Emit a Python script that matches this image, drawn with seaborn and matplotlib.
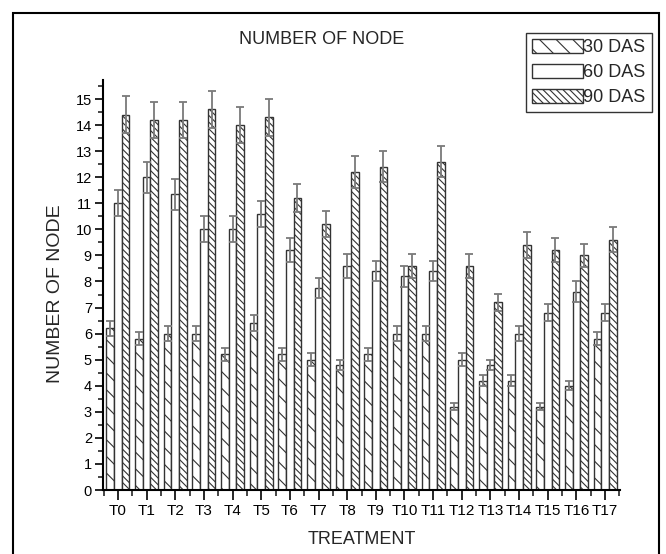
import pandas as pd
import matplotlib.pyplot as plt
import seaborn as sns
from matplotlib.patches import Patch, Rectangle
from matplotlib.ticker import MultipleLocator

# Dados
treatments = [f'T{i}' for i in range(18)]
stages = ['30 DAS', '60 DAS', '90 DAS']

das30 = [6.2, 5.8, 6.0, 6.0, 5.2, 6.4, 5.2, 5.0, 4.8, 5.2, 6.0, 6.0, 3.2, 4.2, 4.2, 3.2, 4.0, 5.8]
das60 = [11.0, 12.0, 11.35, 10.0, 10.0, 10.6, 9.2, 7.75, 8.6, 8.4, 8.2, 8.4, 5.0, 4.8, 6.0, 6.8, 7.6, 6.8]
das90 = [14.4, 14.2, 14.2, 14.6, 14.0, 14.3, 11.2, 10.2, 12.2, 12.4, 8.6, 12.6, 8.6, 7.2, 9.4, 9.2, 9.0, 9.6]

err30 = [0.3, 0.25, 0.3, 0.3, 0.25, 0.3, 0.25, 0.25, 0.2, 0.25, 0.3, 0.3, 0.12, 0.2, 0.2, 0.12, 0.18, 0.25]
err60 = [0.5, 0.6, 0.6, 0.5, 0.5, 0.5, 0.45, 0.4, 0.45, 0.4, 0.4, 0.4, 0.25, 0.2, 0.3, 0.33, 0.4, 0.33]
err90 = [0.7, 0.7, 0.7, 0.7, 0.7, 0.7, 0.55, 0.5, 0.6, 0.6, 0.45, 0.6, 0.45, 0.33, 0.5, 0.45, 0.43, 0.48]

df = pd.DataFrame({
    'treatment': treatments * 3,
    'stage': [s for s in stages for _ in treatments],
    'value': das30 + das60 + das90,
})

sns.set_theme(style="ticks")
plt.rcParams['font.family'] = ['Liberation Sans', 'DejaVu Sans']
plt.rcParams['hatch.color'] = '#4a4a4a'
plt.rcParams['hatch.linewidth'] = 0.8

fig = plt.figure(figsize=(6.66, 5.54), dpi=100)
ax = fig.add_axes([103 / 666, 1 - 490 / 554, 517 / 666, 410 / 554])

sns.barplot(data=df, x='treatment', y='value', hue='stage', order=treatments,
            hue_order=stages, palette=['white'] * 3, saturation=1,
            edgecolor='#333333', linewidth=1.0, errorbar=None, legend=False, ax=ax)

hatches = ['\\\\', None, '\\\\\\\\\\']
errs = [err30, err60, err90]
for container, h, err in zip(ax.containers, hatches, errs):
    xs, ys = [], []
    for bar in container:
        if h:
            bar.set_hatch(h)
        xs.append(bar.get_x() + bar.get_width() / 2)
        ys.append(bar.get_height())
    eb = ax.errorbar(xs, ys, yerr=err, fmt='none', ecolor='#7a7a7a',
                     elinewidth=1.3, capsize=3.2, capthick=1.3, zorder=5)
    for cap in eb[1]:
        cap.set_color('black')

ax.set_xlim(-0.52, 17.52)
ax.set_ylim(0, 15.73)
ax.yaxis.set_major_locator(MultipleLocator(1))
ax.yaxis.set_minor_locator(MultipleLocator(0.5))
ax.set_xticks([i + 0.5 for i in range(-1, 18)], minor=True)
ax.tick_params(axis='both', which='major', direction='out', width=1.2, colors='black')
ax.tick_params(axis='y', which='major', length=6, labelsize=10.5, pad=2)
ax.tick_params(axis='y', which='minor', length=3.5, width=1.2, left=True)
ax.tick_params(axis='x', which='major', length=7, labelsize=11, pad=3)
ax.tick_params(axis='x', which='minor', length=4, width=1.2, bottom=True)
for s in ['left', 'bottom']:
    ax.spines[s].set_linewidth(1.5)
    ax.spines[s].set_color('black')
sns.despine(ax=ax)

ax.set_xlabel('TREATMENT', fontsize=13)
ax.xaxis.set_label_coords(0.5, (490 - 540) / 410)
ax.xaxis.label.set_va('center')
ax.set_ylabel('NUMBER OF NODE', fontsize=14)
ax.yaxis.set_label_coords((55 - 103) / 517, (490 - 294) / 410)
ax.yaxis.label.set_va('center')

fig.text(322 / 666, 1 - 39 / 554, 'NUMBER OF NODE', fontsize=13, ha='center', va='center')

handles = [Patch(facecolor='white', edgecolor='#333333', linewidth=1.0, hatch=h, label=s)
           for h, s in zip(hatches, stages)]
leg = fig.legend(handles=handles, loc='upper right', bbox_to_anchor=(652 / 666, 1 - 33 / 554),
                 bbox_transform=fig.transFigure, frameon=True, fancybox=False,
                 fontsize=13, handlelength=2.8, handleheight=0.8, labelspacing=0.42,
                 handletextpad=0.05, borderpad=0.35, borderaxespad=0)
leg.get_frame().set_edgecolor('black')
leg.get_frame().set_linewidth(1.0)

# moldura externa
fig.add_artist(Rectangle((13 / 666, -0.05), (659 - 13) / 666, (554 - 13) / 554 + 0.05,
                         transform=fig.transFigure, fill=False, edgecolor='black', lw=1.5))

fig.savefig('out.png', dpi=100)
